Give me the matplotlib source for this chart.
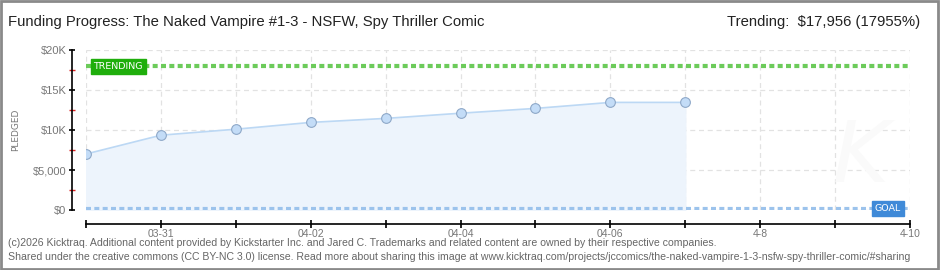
import matplotlib
matplotlib.use("Agg")
import matplotlib.pyplot as plt
from matplotlib.patches import Rectangle
from matplotlib.ticker import FixedLocator, FuncFormatter

plt.rcParams['font.family'] = ['Liberation Sans', 'DejaVu Sans']

# data (one point per day)
day_index = [0, 1, 2, 3, 4, 5, 6, 7, 8]
pledged = [7000, 9350, 10100, 10950, 11450, 12100, 12700, 13450, 13450]
trending = 17956
goal = 100

tick_pos = [1, 3, 5, 7, 9, 11]
tick_labels = ["03-31", "04-02", "04-04", "04-06", "4-8", "4-10"]
y_major = [0, 5000, 10000, 15000, 20000]
y_labels = ["$0", "$5,000", "$10K", "$15K", "$20K"]
y_minor = [2500, 7500, 12500, 17500]

fig = plt.figure(figsize=(9.4, 2.7), dpi=100)
ax = fig.add_axes([86 / 940, 1 - 210 / 270, 824 / 940, 160 / 270])

# border around the picture
fig.patches.append(Rectangle((0.001, 0.002), 0.997, 0.995, transform=fig.transFigure,
                             fill=False, edgecolor="#8a8a8a", linewidth=2))

ax.set_xlim(0, 11)
ax.set_ylim(0, 20000)

# grid
for x in range(0, 12):
    ax.axvline(x, color="#e2e2e2", linestyle=(0, (4, 3)), linewidth=0.9, zorder=0)
for y in y_major:
    ax.axhline(y, color="#e2e2e2", linestyle=(0, (4, 3)), linewidth=0.9, zorder=0)

# watermark
ax.text(10.35, 6500, "K", fontsize=62, color="#fafafa", style="italic",
        ha="center", va="center", family="DejaVu Sans", zorder=0)

# trending & goal lines
ax.axhline(trending, color="#6ccb5a", linestyle=(0, (1.2, 0.8)), linewidth=3, zorder=2)
ax.axhline(goal, color="#9cc3ec", linestyle=(0, (1.2, 0.8)), linewidth=3, zorder=2)

# pledged series
ax.fill_between(day_index, pledged, 0, color="#edf4fc", zorder=1)
ax.plot(day_index, pledged, color="#bcd8f4", linewidth=1.2, zorder=3)
ax.plot(day_index, pledged, "o", markersize=7, markerfacecolor="#c3dcf7",
        markeredgecolor="#8ea8c8", markeredgewidth=0.8, linestyle="none", zorder=4)

# labels on lines
ax.text(0.1, trending, "TRENDING", fontsize=6.8, color="white", family="DejaVu Sans",
        ha="left", va="center", zorder=5,
        bbox=dict(boxstyle="square,pad=0.3", facecolor="#1fae0c", edgecolor="#1fae0c"))
ax.text(10.53, goal + 100, "GOAL", fontsize=6.8, color="white", family="DejaVu Sans",
        ha="left", va="center", zorder=5,
        bbox=dict(boxstyle="square,pad=0.3", facecolor="#3f8ad8", edgecolor="#3f8ad8"))

# spines
for s in ["top", "right"]:
    ax.spines[s].set_visible(False)
ax.spines["left"].set_position(("outward", 10))
ax.spines["bottom"].set_position(("outward", 10))
ax.spines["left"].set_linewidth(1.2)
ax.spines["bottom"].set_linewidth(1.2)

ax.yaxis.set_major_locator(FixedLocator(y_major))
ax.set_yticklabels(y_labels)
ax.yaxis.set_minor_locator(FixedLocator(y_minor))
ax.tick_params(axis="y", which="major", direction="inout", length=5, width=1.2,
               labelsize=8, labelcolor="#777777", pad=1.5)
ax.tick_params(axis="y", which="minor", direction="inout", length=4, width=1,
               color="#dd2222")

ax.xaxis.set_major_locator(FixedLocator(list(range(0, 12))))
ax.xaxis.set_major_formatter(FuncFormatter(
    lambda v, p: tick_labels[tick_pos.index(int(round(v)))] if int(round(v)) in tick_pos else ""))
ax.tick_params(axis="x", which="major", direction="inout", length=6, width=1.2,
               labelsize=7.5, labelcolor="#777777", pad=1)

ax.set_ylabel("PLEDGED", fontsize=6.5, color="#777777", family="DejaVu Sans")
ax.yaxis.set_label_coords((20 - 86) / 824, 0.5)

# title and header
fig.text(8 / 940, 1 - 22 / 270, "Funding Progress: The Naked Vampire #1-3 - NSFW, Spy Thriller Comic",
         fontsize=10.7, color="#222222", ha="left", va="center")
fig.text(920 / 940, 1 - 22 / 270, "Trending:  $17,956 (17955%)",
         fontsize=10.7, color="#222222", ha="right", va="center")

# footer
fig.text(8 / 940, 1 - 243 / 270,
         "(c)2026 Kicktraq. Additional content provided by Kickstarter Inc. and Jared C. "
         "Trademarks and related content are owned by their respective companies.",
         fontsize=7.6, color="#666666", ha="left", va="center")
fig.text(8 / 940, 1 - 257 / 270,
         "Shared under the creative commons (CC BY-NC 3.0) license. Read more about sharing this image at "
         "www.kicktraq.com/projects/jccomics/the-naked-vampire-1-3-nsfw-spy-thriller-comic/#sharing",
         fontsize=7.6, color="#666666", ha="left", va="center")

fig.savefig("out.png", dpi=100, facecolor="white")
